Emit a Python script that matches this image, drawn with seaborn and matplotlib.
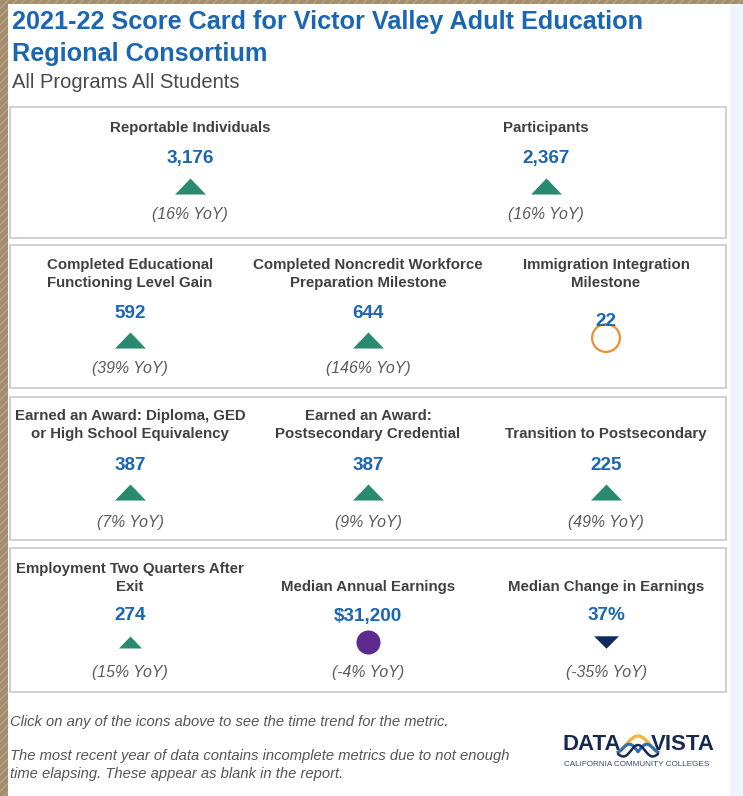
import numpy as np
import pandas as pd
import matplotlib
matplotlib.use("Agg")
import matplotlib.pyplot as plt
import seaborn as sns
from matplotlib.patches import Rectangle
from matplotlib.path import Path
from matplotlib.markers import MarkerStyle

# ---------------- data ----------------
title_lines = ["2021-22 Score Card for Victor Valley Adult Education",
               "Regional Consortium"]
subtitle = "All Programs All Students"
metrics = ["Reportable Individuals", "Participants",
           "Completed Educational\nFunctioning Level Gain",
           "Completed Noncredit Workforce\nPreparation Milestone",
           "Immigration Integration\nMilestone",
           "Earned an Award: Diploma, GED\nor High School Equivalency",
           "Earned an Award:\nPostsecondary Credential",
           "Transition to Postsecondary",
           "Employment Two Quarters After\nExit",
           "Median Annual Earnings",
           "Median Change in Earnings"]
value_labels = ["3,176", "2,367", "592", "644", "22", "387", "387", "225",
                "274", "$31,200", "37%"]
yoy_pct = [16, 16, 39, 146, None, 7, 9, 49, 15, -4, -35]
trend = ["up", "up", "up", "up", "none", "up", "up", "up", "up", "flat", "down"]
row_sizes = [2, 3, 3, 3]
footer_lines = ["Click on any of the icons above to see the time trend for the metric.",
                "The most recent year of data contains incomplete metrics due to not enough\ntime elapsing. These appear as blank in the report."]

# ---------------- layout ----------------
W, H = 743, 796
sns.set_theme(style="white")
plt.rcParams["font.family"] = ["Liberation Sans", "DejaVu Sans"]

fig = plt.figure(figsize=(W / 100, H / 100), dpi=100)
ax = fig.add_axes([0, 0, 1, 1])
ax.set_xlim(0, W)
ax.set_ylim(H, 0)
ax.axis("off")

# frame / background
ax.add_patch(Rectangle((0, 0), W, H, facecolor="#a38d6d", edgecolor="#b8a385",
                       hatch="////", lw=0, zorder=0))
ax.add_patch(Rectangle((8, 4), W - 8, H - 4, facecolor="white", lw=0, zorder=1))
ax.add_patch(Rectangle((730, 4), W - 730, H - 4, facecolor="#eef5fd", lw=0, zorder=1))

BLUE = "#1a66b3"
ax.text(12, 22, title_lines[0], fontsize=18.2, fontweight="bold", color=BLUE,
        va="center", ha="left", zorder=3)
ax.text(12, 54, title_lines[1], fontsize=18.2, fontweight="bold", color=BLUE,
        va="center", ha="left", zorder=3)
ax.text(12, 82, subtitle, fontsize=14.5, color="#4a4a4a", va="center", ha="left", zorder=3)

# panel geometry (pixel space)
panels = [
    dict(top=107, bot=238, cx=[190, 546], label=126, value=157, mark=186, yoy=213),
    dict(top=245, bot=388, cx=[130, 368, 606], label=281, value=311, mark=340, yoy=367),
    dict(top=397, bot=540, cx=[130, 368, 606], label=432, value=463, mark=492, yoy=520),
    dict(top=548, bot=692, cx=[130, 368, 606], label=585, value=614, mark=642, yoy=670),
]

LABEL_FS = 10.8
rows = []
i = 0
for p_idx, (p, n) in enumerate(zip(panels, row_sizes)):
    ax.add_patch(Rectangle((10, p["top"]), 716, p["bot"] - p["top"], facecolor="white",
                           edgecolor="#cdcdcd", lw=1.3, zorder=2))
    for k in range(n):
        cx = p["cx"][k]
        lab = metrics[i]
        if p_idx == 0:
            ax.text(cx, p["label"] + 2, lab, fontsize=LABEL_FS, fontweight="bold", color="#404040",
                    ha="center", va="center", zorder=3)
        else:
            ax.text(cx, p["label"] + 6, lab, fontsize=LABEL_FS, fontweight="bold", color="#404040",
                    ha="center", va="baseline", linespacing=1.36, zorder=3,
                    multialignment="center")
        vy = p["value"] + 2 + (8 if trend[i] == "none" else 0)
        ax.text(cx, vy, value_labels[i], fontsize=13.6, fontweight="bold", color=BLUE,
                ha="center", va="center", zorder=5)
        if yoy_pct[i] is not None:
            ax.text(cx, p["yoy"] + 2, f"({yoy_pct[i]}% YoY)", fontsize=11.4, style="italic",
                    color="#5a5a5a", ha="center", va="center", zorder=3)
        rows.append(dict(metric=lab, trend=trend[i], x=cx,
                         y=p["mark"] - (2 if trend[i] == "none" else 0),
                         small=(p_idx == 3 and trend[i] == "up")))
        i += 1

df = pd.DataFrame(rows)

# marker paths are in screen space (y up)
tri_up = Path([(-1, -0.52), (1, -0.52), (0, 0.52), (-1, -0.52)],
              [Path.MOVETO, Path.LINETO, Path.LINETO, Path.CLOSEPOLY])
tri_dn = Path([(-1, 0.5), (1, 0.5), (0, -0.5), (-1, 0.5)],
              [Path.MOVETO, Path.LINETO, Path.LINETO, Path.CLOSEPOLY])

styles = {
    "up": dict(marker=tri_up, color="#2a8a6f", s=495),
    "down": dict(marker=tri_dn, color="#0f2a5e", s=320),
    "flat": dict(marker="o", color="#5d2b8e", s=300),
}
for key, st in styles.items():
    sub = df[(df.trend == key)]
    if key == "up":
        for small, g in sub.groupby("small"):
            sns.scatterplot(data=g, x="x", y="y", ax=ax, marker=st["marker"], color=st["color"],
                            s=(275 if small else st["s"]), linewidth=0, legend=False, zorder=4)
    else:
        sns.scatterplot(data=sub, x="x", y="y", ax=ax, marker=st["marker"], color=st["color"],
                        s=st["s"], linewidth=0, legend=False, zorder=4)

sub = df[df.trend == "none"]
sns.scatterplot(data=sub, x="x", y="y", ax=ax, marker=MarkerStyle("o", fillstyle="none"),
                color="#ef8f2c", s=400, linewidth=1.6, legend=False, zorder=4)

ax.set_xlim(0, W)
ax.set_ylim(H, 0)
ax.axis("off")

# footer
ax.text(10, 722, footer_lines[0], fontsize=10.6, style="italic", color="#555555",
        ha="left", va="center", zorder=3)
ax.text(10, 765, footer_lines[1], fontsize=10.6, style="italic", color="#555555",
        ha="left", va="center", linespacing=1.3, zorder=3)

# logo
NAVY = "#17294f"
ax.text(592, 744, "DATA", fontsize=16, fontweight="bold", color=NAVY, ha="center",
        va="center", zorder=3)
ax.text(683, 744, "VISTA", fontsize=16, fontweight="bold", color=NAVY, ha="center",
        va="center", zorder=3)
t = np.linspace(0, 1, 80)
xw = 618 + 40 * t
ax.plot(xw, 752 - 16 * np.sin(np.pi * t) ** 1.5, color="#f2b53a", lw=2.4, zorder=3)
ax.plot(xw, 752 - 9 * np.abs(np.sin(2 * np.pi * t)) * np.sin(np.pi * t) ** 0.5,
        color="#2f6fb8", lw=2.2, zorder=3)
ax.plot(xw, 754 - 6 * np.sin(np.pi * t) ** 3 + 3 * np.sin(3 * np.pi * t), color=NAVY,
        lw=1.8, zorder=3)
ax.text(637, 765, "CALIFORNIA COMMUNITY COLLEGES", fontsize=5.9, color="#3b4a66",
        ha="center", va="center", zorder=3)

fig.savefig("out.png", dpi=100)
